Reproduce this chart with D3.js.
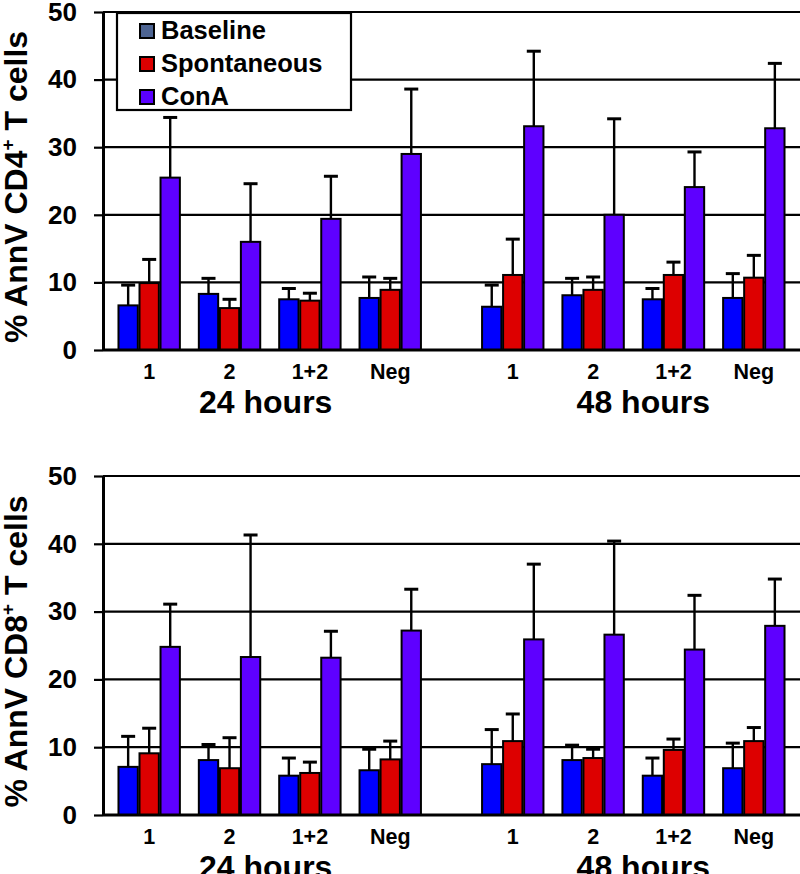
<!DOCTYPE html>
<html>
<head>
<meta charset="utf-8">
<script src="https://cdn.jsdelivr.net/npm/d3@7/dist/d3.min.js"></script>
<style>
  html, body { margin: 0; padding: 0; background: #fff; }
  svg { display: block; }
  text { font-family: Arial, "Liberation Sans", sans-serif; font-weight: bold; fill: #000; }
</style>
</head>
<body>
<svg id="chart" width="800" height="874"></svg>
<script>
// ---------------- data ----------------
const hours = ["24 hours", "48 hours"];
const categories = ["1", "2", "1+2", "Neg"];
const seriesNames = ["Baseline", "Spontaneous", "ConA"];
const yTicks = [0, 10, 20, 30, 40, 50];

// CD4 panel: [24h values..., 48h values...]
const cd4Baseline      = [6.6, 8.3, 7.5, 7.7,   6.4, 8.1, 7.5, 7.7];
const cd4BaselineErr   = [3.0, 2.3, 1.6, 3.1,   3.2, 2.5, 1.6, 3.6];
const cd4Spontaneous   = [9.9, 6.2, 7.3, 8.9,   11.1, 8.9, 11.1, 10.7];
const cd4SpontaneousErr= [3.5, 1.3, 1.1, 1.7,   5.3, 1.9, 1.9, 3.3];
const cd4ConA          = [25.5, 16.0, 19.4, 29.0, 33.1, 20.0, 24.1, 32.8];
const cd4ConAErr       = [8.9, 8.6, 6.3, 9.6,   11.1, 14.2, 5.2, 9.6];

// CD8 panel
const cd8Baseline      = [7.1, 8.1, 5.8, 6.6,   7.5, 8.1, 5.8, 6.9];
const cd8BaselineErr   = [4.5, 2.3, 2.6, 3.1,   5.1, 2.2, 2.6, 3.7];
const cd8Spontaneous   = [9.1, 6.9, 6.2, 8.2,   10.9, 8.4, 9.6, 10.9];
const cd8SpontaneousErr= [3.7, 4.5, 1.6, 2.7,   4.0, 1.3, 1.6, 2.0];
const cd8ConA          = [24.8, 23.3, 23.2, 27.2, 25.9, 26.6, 24.4, 27.9];
const cd8ConAErr       = [6.3, 18.0, 3.9, 6.1,  11.1, 13.8, 8.0, 6.9];

// ---------------- styles ----------------
const barColors = ["#0000ff", "#dd0000", "#5e00ff"];
const legendColors = ["#4d6492", "#dd0000", "#5a00ff"];

// ---------------- layout ----------------
const W = 800;
const axisX = 103;
const panels = [
  { label: "CD4", top: 12, bottom: 350, legend: true,
    values: [cd4Baseline, cd4Spontaneous, cd4ConA],
    errs: [cd4BaselineErr, cd4SpontaneousErr, cd4ConAErr] },
  { label: "CD8", top: 476, bottom: 815, legend: false,
    values: [cd8Baseline, cd8Spontaneous, cd8ConA],
    errs: [cd8BaselineErr, cd8SpontaneousErr, cd8ConAErr] }
];

const svg = d3.select("#chart");

const xHours = d3.scaleBand().domain(hours).range([109, 794]).paddingInner(0.116).paddingOuter(0);
const xCat = d3.scaleBand().domain(categories).range([0, xHours.bandwidth()]).paddingInner(0.236).paddingOuter(0.118);
const xSeries = d3.scaleBand().domain(seriesNames).range([0, xCat.bandwidth()]).paddingInner(0.08).paddingOuter(0);
const hourLabelDx = [-4, 10];

panels.forEach(p => {
  const g = svg.append("g");
  const y = d3.scaleLinear().domain([0, 50]).range([p.bottom, p.top]);

  // gridlines
  g.append("g").selectAll("line").data(yTicks.filter(t => t > 0)).join("line")
    .attr("x1", axisX).attr("x2", W)
    .attr("y1", d => y(d)).attr("y2", d => y(d))
    .attr("stroke", "#000").attr("stroke-width", 2.2);

  // y axis
  const yAxis = d3.axisLeft(y).tickValues(yTicks).tickSize(9).tickSizeOuter(0).tickPadding(17);
  const ya = g.append("g").attr("transform", `translate(${axisX},0)`).call(yAxis);
  ya.select(".domain").attr("stroke", "#000").attr("stroke-width", 3);
  ya.selectAll(".tick line").attr("stroke", "#000").attr("stroke-width", 2.2);
  ya.selectAll(".tick text").attr("font-size", 26).attr("font-family", "Arial, 'Liberation Sans', sans-serif").attr("font-weight", "bold").attr("fill", "#000");

  // flatten data
  const rows = [];
  hours.forEach((h, hi) => {
    categories.forEach((c, ci) => {
      seriesNames.forEach((s, si) => {
        const idx = hi * categories.length + ci;
        rows.push({ h, c, s, si, v: p.values[si][idx], e: p.errs[si][idx] });
      });
    });
  });
  const bx = d => xHours(d.h) + xCat(d.c) + xSeries(d.s);

  // bars
  g.append("g").selectAll("rect").data(rows).join("rect")
    .attr("x", bx)
    .attr("y", d => y(d.v))
    .attr("width", xSeries.bandwidth())
    .attr("height", d => y(0) - y(d.v))
    .attr("fill", d => barColors[d.si])
    .attr("stroke", "#000").attr("stroke-width", 2);

  // error bars
  const eb = g.append("g").selectAll("g").data(rows).join("g");
  eb.append("line")
    .attr("x1", d => bx(d) + xSeries.bandwidth() / 2).attr("x2", d => bx(d) + xSeries.bandwidth() / 2)
    .attr("y1", d => y(d.v)).attr("y2", d => y(d.v + d.e))
    .attr("stroke", "#000").attr("stroke-width", 2.4);
  eb.append("line")
    .attr("x1", d => bx(d) + xSeries.bandwidth() / 2 - 7).attr("x2", d => bx(d) + xSeries.bandwidth() / 2 + 7)
    .attr("y1", d => y(d.v + d.e)).attr("y2", d => y(d.v + d.e))
    .attr("stroke", "#000").attr("stroke-width", 3);

  // x axis line
  g.append("line").attr("x1", axisX).attr("x2", W)
    .attr("y1", y(0)).attr("y2", y(0))
    .attr("stroke", "#000").attr("stroke-width", 3);

  // category labels
  hours.forEach((h, hi) => {
    g.append("g").selectAll("text").data(categories).join("text")
      .attr("x", c => xHours(h) + xCat(c) + xCat.bandwidth() / 2)
      .attr("y", y(0) + 29)
      .attr("text-anchor", "middle")
      .attr("font-size", 21.5)
      .text(c => c);
    g.append("text")
      .attr("x", xHours(h) + xHours.bandwidth() / 2 + hourLabelDx[hi])
      .attr("y", y(0) + 63)
      .attr("text-anchor", "middle")
      .attr("font-size", 32)
      .text(h);
  });

  // y label
  const yl = g.append("text")
    .attr("transform", `translate(27,${(p.top + p.bottom) / 2 + 6}) rotate(-90)`)
    .attr("text-anchor", "middle")
    .attr("font-size", 32);
  yl.append("tspan").text("% AnnV " + p.label);
  yl.append("tspan").attr("font-size", 19).attr("dy", -13).text("+");
  yl.append("tspan").attr("dy", 13).text(" T cells");

  // legend
  if (p.legend) {
    const lg = g.append("g");
    lg.append("rect").attr("x", 117).attr("y", 13).attr("width", 234).attr("height", 97)
      .attr("fill", "#fff").attr("stroke", "#000").attr("stroke-width", 2.2);
    const items = lg.selectAll("g.item").data(seriesNames).join("g").attr("class", "item")
      .attr("transform", (d, i) => `translate(140,${24 + i * 33})`);
    items.append("rect").attr("width", 14).attr("height", 14)
      .attr("fill", (d, i) => legendColors[i]).attr("stroke", "#000").attr("stroke-width", 2);
    items.append("text").attr("x", 21).attr("y", 15).attr("font-size", 25.5).text(d => d);
  }
});
</script>
</body>
</html>
